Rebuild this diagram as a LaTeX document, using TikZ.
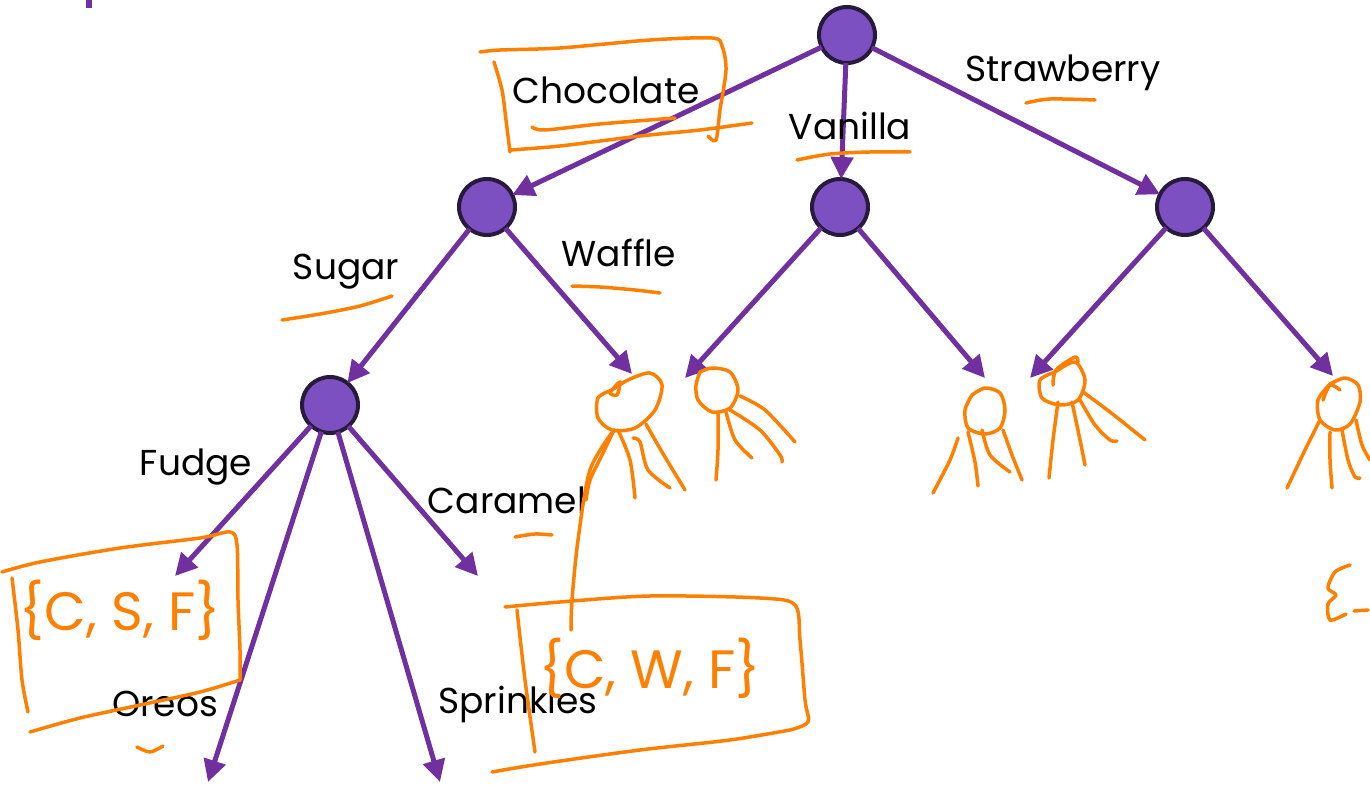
\documentclass[tikz,border=0pt]{standalone}
\usepackage{fontspec}
\setmainfont{Poppins}
\usetikzlibrary{arrows.meta}
\definecolor{edgec}{RGB}{112,48,160}
\definecolor{nodefill}{RGB}{124,80,192}
\definecolor{nodeline}{RGB}{40,26,60}
\definecolor{pen}{RGB}{255,128,0}
\tikzset{
  vtx/.style={circle,fill=nodefill,draw=nodeline,line width=4pt,minimum size=56pt,inner sep=0pt,outer sep=0pt},
  edge/.style={draw=edgec,line width=5pt,-{Triangle[length=22pt,width=22pt]}},
  lbl/.style={font=\fontsize{36}{42}\selectfont,text=black,inner sep=0pt},
  hand/.style={draw=pen,line width=3.5pt,line cap=round,line join=round},
  handtxt/.style={font=\fontsize{54}{60}\selectfont,text=pen,inner sep=0pt}
}
\begin{document}
\begin{tikzpicture}[x=1pt,y=-1pt]
\useasboundingbox (0,0) rectangle (1370,786);
\fill[edgec] (86,0) rectangle (92,8);
% vertices
\node[vtx] (R) at (847,35) {};
\node[vtx] (A) at (487,207) {};
\node[vtx] (B) at (840,207) {};
\node[vtx] (C) at (1185,207) {};
\node[vtx] (D) at (330,405) {};
% free ends
\coordinate (l1) at (632,374);
\coordinate (l2) at (685,378);
\coordinate (l3) at (985,378);
\coordinate (l4) at (1030,378);
\coordinate (l5) at (1333,376);
\coordinate (f1) at (175,576);
\coordinate (f2) at (208,782);
\coordinate (f3) at (440,782);
\coordinate (f4) at (478,576);
% edges
\draw[edge] (R) -- (A);
\draw[edge] (R) -- (B);
\draw[edge] (R) -- (C);
\draw[edge] (A) -- (D);
\draw[edge] (A) -- (l1);
\draw[edge] (B) -- (l2);
\draw[edge] (B) -- (l3);
\draw[edge] (C) -- (l4);
\draw[edge] (C) -- (l5);
\draw[edge] (D) -- (f1);
\draw[edge] (D) -- (f2);
\draw[edge] (D) -- (f3);
\draw[edge] (D) -- (f4);
% labels
\node[lbl] (tChoc) at (606,90) {Chocolate};
\node[lbl] (tVan) at (850,126) {Vanilla};
\node[lbl] (tStr) at (1063,73) {Strawberry};
\node[lbl] (tSug) at (346,272) {Sugar};
\node[lbl] (tWaf) at (619,253) {Waffle};
\node[lbl] (tFud) at (196,467) {Fudge};
\node[lbl] (tCar) at (507,500) {Caramel};
\node[lbl] (tOre) at (165,704) {Oreos};
\node[lbl] (tSpr) at (518,704) {Sprinkles};
% orange annotations: chocolate box
\draw[hand] plot[smooth] coordinates {(480,52) (500,50) (560,48) (650,40) (712,38) (722,46) (726,70) (720,110) (716,140) (708,136)};
\draw[hand] plot[smooth] coordinates {(494,62) (502,90) (506,120) (510,152)};
\draw[hand] plot[smooth] coordinates {(510,150) (560,146) (640,136) (700,130) (752,123)};
\draw[hand] plot[smooth] coordinates {(532,127) (545,130) (600,124) (675,118)};
% underlines
\draw[hand] plot[smooth] coordinates {(797,160) (830,154) (870,152) (910,152)};
\draw[hand] plot[smooth] coordinates {(1026,103) (1050,99) (1095,100)};
\draw[hand] plot[smooth] coordinates {(282,320) (320,314) (360,306) (392,296)};
\draw[hand] plot[smooth] coordinates {(572,286) (600,287) (635,290) (660,293)};
\draw[hand] plot[smooth] coordinates {(137,747) (150,752) (163,746)};
\draw[hand] plot[smooth] coordinates {(515,537) (535,534) (552,535)};
% leaf 1
\draw[hand] plot[smooth] coordinates {(612,390) (620,382) (617,395) (610,392) (628,380) (650,373) (662,385) (655,410) (635,428) (612,430) (598,418) (598,398) (612,390)};
\draw[hand] plot[smooth] coordinates {(614,430) (602,455) (590,480) (586,500)};
\draw[hand] plot[smooth] coordinates {(618,430) (630,460) (635,498)};
\draw[hand] plot[smooth] coordinates {(633,438) (640,442) (648,470) (670,488)};
\draw[hand] plot[smooth] coordinates {(646,424) (662,452) (685,490)};
\draw[hand] plot[smooth] coordinates {(614,430) (590,470) (578,540) (572,600) (571,630)};
% leaf 2
\draw[hand] plot[smooth] coordinates {(700,372) (712,368) (730,372) (738,390) (730,408) (712,412) (698,400) (696,385) (700,372)};
\draw[hand] plot[smooth] coordinates {(718,414) (718,450) (716,480)};
\draw[hand] plot[smooth] coordinates {(726,412) (735,440) (752,458)};
\draw[hand] plot[smooth] coordinates {(730,410) (760,430) (780,455) (782,462)};
\draw[hand] plot[smooth] coordinates {(740,396) (765,410) (795,442)};
% leaf 3
\draw[hand] plot[smooth] coordinates {(972,395) (985,388) (1000,393) (1005,410) (1000,428) (985,434) (968,428) (965,410) (972,395)};
\draw[hand] plot[smooth] coordinates {(958,438) (950,460) (933,493)};
\draw[hand] plot[smooth] coordinates {(968,432) (975,462) (978,486)};
\draw[hand] plot[smooth] coordinates {(982,430) (990,455) (1010,472)};
\draw[hand] plot[smooth] coordinates {(1003,430) (1012,455) (1022,480)};
% leaf 4
\draw[hand] plot[smooth] coordinates {(1055,372) (1075,362) (1085,380) (1078,400) (1060,405) (1042,398) (1040,380) (1055,372)};
\draw[hand] plot[smooth] coordinates {(1053,385) (1056,370) (1075,357) (1078,362)};
\draw[hand] plot[smooth] coordinates {(1058,402) (1053,440) (1049,478)};
\draw[hand] plot[smooth] coordinates {(1072,402) (1080,440) (1085,465)};
\draw[hand] plot[smooth] coordinates {(1080,400) (1095,425) (1110,440) (1117,441)};
\draw[hand] plot[smooth] coordinates {(1083,392) (1110,412) (1145,440)};
% leaf 5
\draw[hand] plot[smooth] coordinates {(1330,384) (1345,378) (1358,385) (1360,402) (1350,424) (1335,430) (1320,420) (1318,400) (1330,384)};
\draw[hand] plot[smooth] coordinates {(1323,400) (1330,385) (1340,390)};
\draw[hand] plot[smooth] coordinates {(1320,420) (1305,450) (1287,488)};
\draw[hand] plot[smooth] coordinates {(1330,432) (1330,460) (1332,488)};
\draw[hand] plot[smooth] coordinates {(1342,430) (1348,460) (1355,477) (1360,478)};
\draw[hand] plot[smooth] coordinates {(1356,420) (1362,445) (1370,460)};
% box {C,S,F}
\draw[hand] plot[smooth] coordinates {(2,572) (40,562) (120,548) (200,538) (230,532) (237,545) (238,600) (240,650) (240,680)};
\draw[hand] plot[smooth] coordinates {(12,578) (18,630) (22,680) (28,712)};
\draw[hand] plot[smooth] coordinates {(30,732) (80,718) (140,705) (200,692) (240,680)};
\node[handtxt] (csf) at (120,610) {\{C, S, F\}};
% box {C,W,F}
\draw[hand] plot[smooth] coordinates {(505,607) (560,602) (650,596) (760,598) (795,605) (800,640) (805,700) (808,722) (790,730)};
\draw[hand] plot[smooth] coordinates {(517,610) (525,680) (535,752)};
\draw[hand] plot[smooth] coordinates {(492,772) (540,764) (640,750) (730,740) (790,730)};
\node[handtxt] (cwf) at (650,668) {\{C, W, F\}};
% partial right
\draw[hand] plot[smooth] coordinates {(1350,565) (1335,572) (1328,588) (1336,595) (1328,604) (1330,620) (1346,614)};
\draw[hand] plot[smooth] coordinates {(1354,611) (1368,610)};
\end{tikzpicture}
\end{document}
